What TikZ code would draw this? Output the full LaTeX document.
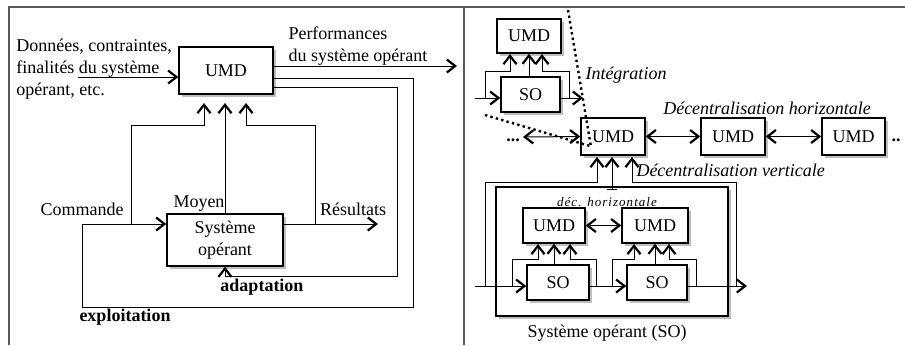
\documentclass[tikz,border=0pt]{standalone}
\usepackage{fontspec}
\setmainfont{Liberation Serif}
\usetikzlibrary{arrows.meta,shadows,calc}

\tikzset{
  box/.style={draw,fill=white,line width=0.7pt,inner sep=0pt,
    drop shadow={shadow xshift=1.6pt,shadow yshift=-1.6pt,fill=black!50}},
  barb/.tip={Straight Barb[length=4.2pt,width=6.5pt,line width=1.1pt]},
  tip/.style={-barb},
  dtip/.style={barb-barb},
  frame/.style={line width=0.8pt,black!65},
}

\begin{document}
\begin{tikzpicture}[x=0.5pt,y=-0.5pt,line width=0.5pt,
    every node/.style={font=\fontsize{9}{11}\selectfont}]
    \useasboundingbox (0,0) rectangle (905,345);
    \draw[frame] (9,345) -- (9,7) -- (905,7);
    \draw[frame] (464,7) -- (464,345);

    % partie gauche
    \node[box,minimum width=47pt,minimum height=23.5pt] (umd) at (226,70.5) {UMD};
    \node[box,minimum width=58pt,minimum height=26pt,align=center] (so) at (225,240) {Système\\opérant};

    \node[inner sep=0pt,align=left,anchor=west] (donnees) at (16,69) {Données, contraintes,\\finalités du système\\opérant, etc.};
    \node[inner sep=0pt,align=left,anchor=west] (perf) at (288,46.5) {Performances\\du système opérant};

    \coordinate (in) at (78,77);
    \coordinate (perfEnd) at (457,66);
    \coordinate (ex1) at (413,78);
    \coordinate (ex2) at (82,307);
    \coordinate (ad1) at (397,87);
    \coordinate (ad2) at (225,276);
    \coordinate (resEnd) at (378,224);
    \draw[tip] (in) -- (umd.west |- in);
    \draw[tip] (umd.east |- perfEnd) -- (perfEnd);
    \draw[tip] (umd.east |- ex1) -- (ex1) |- (ex2) |- (so.west |- resEnd);
    \draw[tip] (umd.east |- ad1) -- (ad1) |- (ad2) -- (so.south);
    \draw[tip] (so.east |- resEnd) -- (resEnd);

    \draw[tip] (131,224) |- (204,125) -- (204,103);
    \draw[tip] (so.north) -- (225,103);
    \draw[tip] (315,224) |- (246,125) -- (246,103);

    \node (commande) at (82,209) {Commande};
    \node (moyen) at (199,204) {Moyen};
    \node (resultats) at (353,209) {Résultats};
    \node (adapt) at (262,287) {\bfseries adaptation};
    \node (exploit) at (125,317) {\bfseries exploitation};

    % partie droite
    \node[box,minimum width=32pt,minimum height=17pt] (umdT) at (529,36) {UMD};
    \node[box,minimum width=29.5pt,minimum height=17.5pt] (soT) at (530.5,94.5) {SO};
    \node[box,minimum width=32pt,minimum height=18.5pt] (umdA) at (613,136.5) {UMD};
    \node[box,minimum width=32pt,minimum height=18.5pt] (umdB) at (733,136.5) {UMD};
    \node[box,minimum width=31.5pt,minimum height=18.5pt] (umdC) at (853.5,136.5) {UMD};
    \node[box,minimum width=116pt,minimum height=64.5pt] (sys) at (612,251.5) {};
    \node[box,minimum width=31pt,minimum height=17.5pt] (umdL) at (554,225.5) {UMD};
    \node[box,minimum width=33pt,minimum height=17.5pt] (umdR) at (655,225.5) {UMD};
    \node[box,minimum width=31pt,minimum height=17.5pt] (soL) at (558,282.5) {SO};
    \node[box,minimum width=30pt,minimum height=17.5pt] (soR) at (657,282.5) {SO};

    \coordinate (tIn) at (475,98);
    \coordinate (tOut) at (583,98);
    \draw[tip] (tIn) -- (soT.west |- tIn);
    \draw[tip] (485,98) |- (510,71) -- (510,54);
    \draw[tip] (umdT.south |- soT.north) -- (umdT.south);
    \draw[tip] (soT.east |- tOut) -- (tOut);
    \draw[tip] (569,98) |- (542,71) -- (542,54);

    \coordinate (hl) at (523,137);
    \draw[dtip] (hl) -- (umdA.west);
    \draw[dtip] (umdA.east) -- (umdB.west);
    \draw[dtip] (umdB.east) -- (umdC.west);
    \node[inner sep=0pt] (dotsL) at (513,140) {\bfseries ...};
    \node[inner sep=0pt] (dotsR) at (896,140) {\bfseries ..};

    \draw[line width=1.2pt,dash pattern=on 1.2pt off 1.6pt] (568,10) -- (591,147);
    \draw[line width=1.2pt,dash pattern=on 1.2pt off 1.6pt] (485,115) -- (590,146);

    \node[anchor=west,inner sep=0pt] (integ) at (585,75) {\itshape Intégration};
    \node (dech) at (767,108) {\itshape Décentralisation horizontale};
    \node[anchor=west,inner sep=0pt] (decv) at (636,170) {\itshape Décentralisation verticale};

    \draw[tip] (485,286) |- (597,182) -- (597,157);
    \draw[{Bar[width=5pt]}-barb] (612,190) -- (612,157);
    \draw[tip] (736,286) |- (632,182) -- (632,157);

    \coordinate (bIn) at (475,286);
    \coordinate (bOut) at (747,286);
    \draw[tip] (bIn) -- (soL.west |- bIn);
    \draw[tip] (soL.east |- bIn) -- (soR.west |- bIn);
    \draw[tip] (soR.east |- bOut) -- (bOut);

    \draw[tip] (512,286) |- (538,259) -- (538,244);
    \draw[tip] (umdL.south |- soL.north) -- (umdL.south);
    \draw[tip] (596,286) |- (570,259) -- (570,244);
    \draw[tip] (612,286) |- (634,259) -- (634,244);
    \draw[tip] (umdR.south |- soR.north) -- (umdR.south);
    \draw[tip] (696,286) |- (669,259) -- (669,244);
    \draw[dtip] (umdL.east) -- (umdR.west);

    \node (dech2) at (607,202) {\fontsize{6.5}{7}\selectfont\itshape\addfontfeature{LetterSpace=8}déc. horizontale};
    \node (sysLbl) at (607,333) {Système opérant (SO)};
\end{tikzpicture}
\end{document}
